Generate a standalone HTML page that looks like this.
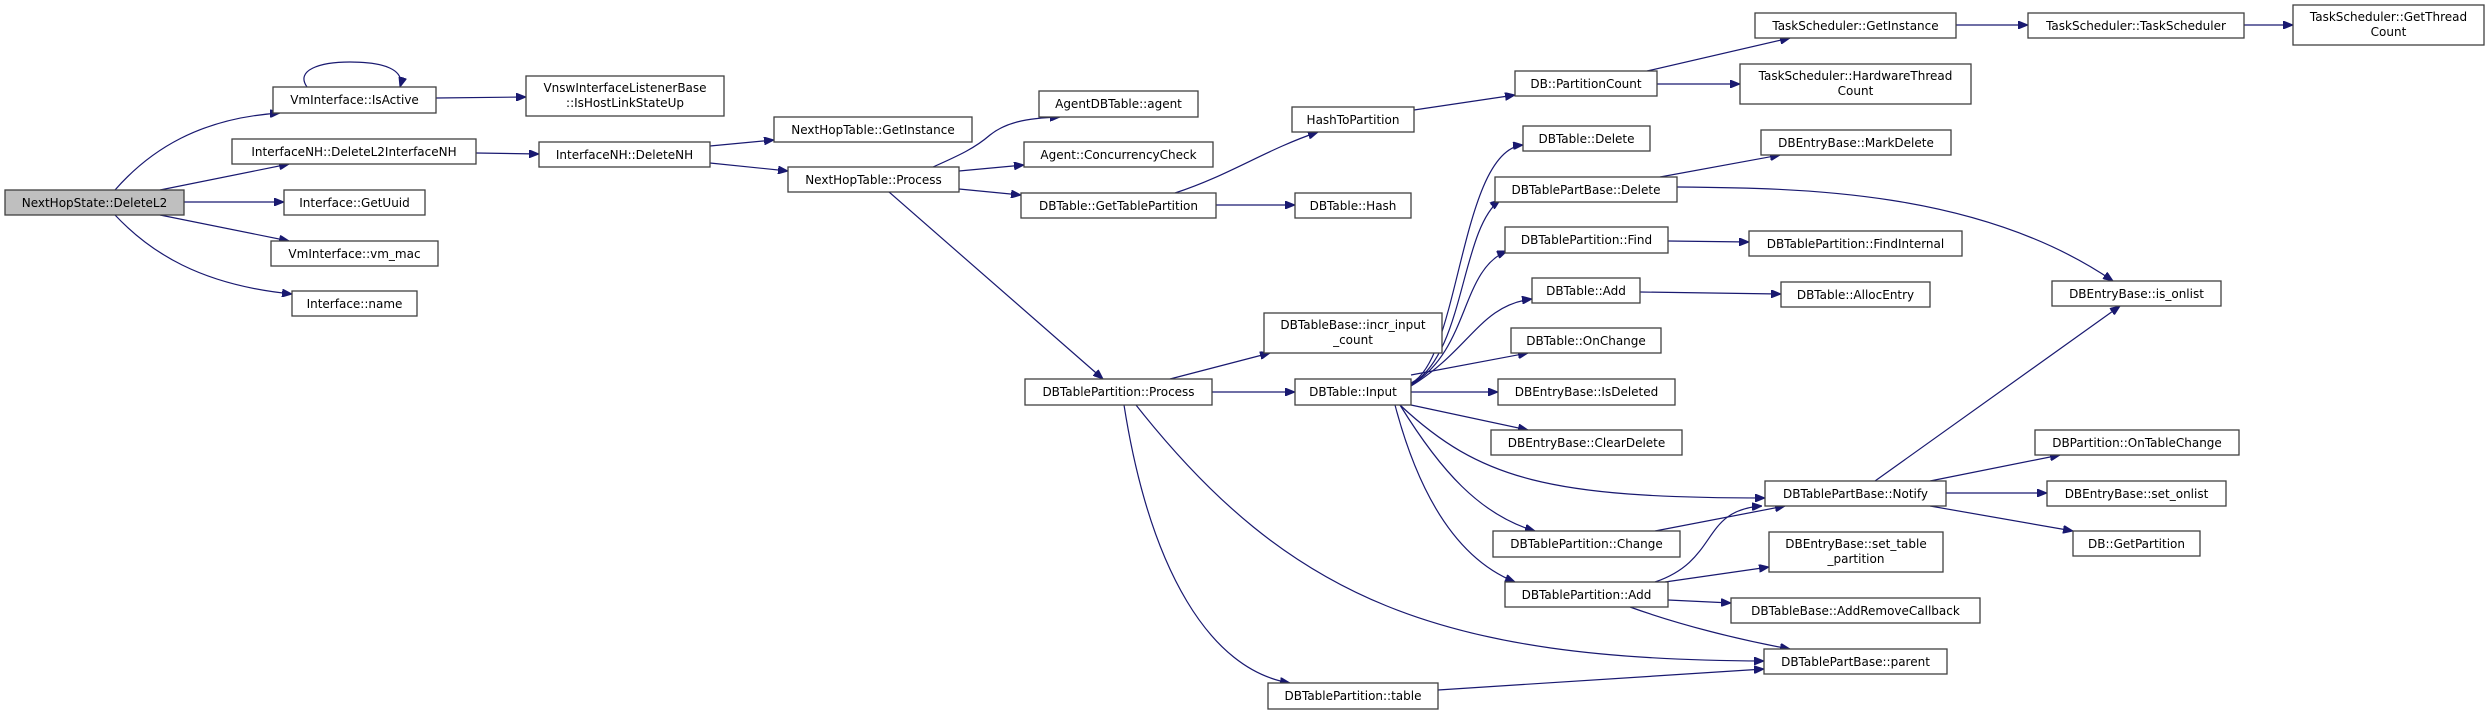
<!DOCTYPE html>
<html><head><meta charset="utf-8"><style>
html,body{margin:0;padding:0;background:#fff;}
svg{display:block;}
text{font-family:"DejaVu Sans","Liberation Sans",sans-serif;font-size:12px;fill:#000;}
.n{fill:#fff;stroke:#404040;stroke-width:1.3;}
.e{fill:none;stroke:#191970;stroke-width:1.2;}
</style></head><body>
<svg width="2491" height="715" viewBox="0 0 2491 715" xmlns="http://www.w3.org/2000/svg">
<defs><marker id="a" viewBox="0 0 10 8" refX="10" refY="4" markerWidth="10" markerHeight="8" markerUnits="userSpaceOnUse" orient="auto"><path d="M0,0 L10,4 L0,8 Z" fill="#191970" stroke="#191970"/></marker></defs>
<g class="e" marker-end="url(#a)">
<path d="M115,190 C150,150 200,118 280,113"/>
<path d="M160,190 L289,164"/>
<path d="M184,202 L284,202"/>
<path d="M160,215 L289,241"/>
<path d="M115,215 C150,252 200,285 292,294"/>
<path d="M307,87 C295,70 320,62 350,62 C385,62 405,70 400,87"/>
<path d="M436,98 L526,97"/>
<path d="M476,153 L539,154"/>
<path d="M710,146 L774,140"/>
<path d="M710,163 L788,171"/>
<path d="M933,167 C960,155 975,148 990,135 C1005,123 1025,118 1060,117"/>
<path d="M959,171 L1024,165"/>
<path d="M959,189 L1021,195"/>
<path d="M889,192 L1103,379"/>
<path d="M1175,193 C1230,175 1265,150 1318,132"/>
<path d="M1216,205 L1295,205"/>
<path d="M1414,110 L1515,95"/>
<path d="M1647,71 L1790,38"/>
<path d="M1657,84 L1740,84"/>
<path d="M1956,25 L2028,25"/>
<path d="M2244,25 L2293,25"/>
<path d="M1170,379 L1270,353"/>
<path d="M1212,392 L1295,392"/>
<path d="M1124,405 C1150,570 1210,670 1290,683"/>
<path d="M1136,405 C1290,600 1440,660 1764,661"/>
<path d="M1411,383 C1460,360 1460,150 1523,145"/>
<path d="M1411,384 C1465,355 1460,230 1500,200"/>
<path d="M1411,385 C1470,350 1460,270 1507,251"/>
<path d="M1411,386 C1470,350 1480,305 1532,299"/>
<path d="M1411,375 L1528,353"/>
<path d="M1411,392 L1498,392"/>
<path d="M1411,405 L1528,430"/>
<path d="M1400,405 C1480,480 1550,498 1765,498"/>
<path d="M1400,405 C1440,470 1480,515 1535,531"/>
<path d="M1395,405 C1420,500 1460,560 1515,582"/>
<path d="M1660,177 L1780,155"/>
<path d="M1677,187 C1800,188 1980,190 2113,281"/>
<path d="M1668,241 L1749,242"/>
<path d="M1640,292 L1781,294"/>
<path d="M1875,481 L2120,306"/>
<path d="M1930,481 L2060,455"/>
<path d="M1946,493 L2047,493"/>
<path d="M1930,506 L2073,531"/>
<path d="M1655,531 L1785,506"/>
<path d="M1655,582 C1720,560 1700,510 1762,506"/>
<path d="M1665,582 L1769,567"/>
<path d="M1668,600 L1731,603"/>
<path d="M1630,607 C1680,625 1740,640 1790,649"/>
<path d="M1438,690 L1764,669"/>
</g>
<rect x="5" y="190" width="179" height="25" fill="#bfbfbf" stroke="#404040" stroke-width="1.3"/>
<text x="94.5" y="207" text-anchor="middle">NextHopState::DeleteL2</text>
<g>
<rect class="n" x="273" y="87" width="163" height="26"/><text x="354.5" y="104" text-anchor="middle">VmInterface::IsActive</text>
<rect class="n" x="526" y="76" width="198" height="40"/><text x="625" y="92" text-anchor="middle">VnswInterfaceListenerBase</text><text x="625" y="107" text-anchor="middle">::IsHostLinkStateUp</text>
<rect class="n" x="232" y="139" width="244" height="25"/><text x="354" y="156" text-anchor="middle">InterfaceNH::DeleteL2InterfaceNH</text>
<rect class="n" x="539" y="142" width="171" height="25"/><text x="624.5" y="159" text-anchor="middle">InterfaceNH::DeleteNH</text>
<rect class="n" x="284" y="190" width="141" height="25"/><text x="354.5" y="207" text-anchor="middle">Interface::GetUuid</text>
<rect class="n" x="271" y="241" width="167" height="25"/><text x="354.5" y="258" text-anchor="middle">VmInterface::vm_mac</text>
<rect class="n" x="292" y="291" width="125" height="25"/><text x="354.5" y="308" text-anchor="middle">Interface::name</text>
<rect class="n" x="774" y="117" width="198" height="25"/><text x="873" y="134" text-anchor="middle">NextHopTable::GetInstance</text>
<rect class="n" x="788" y="167" width="171" height="25"/><text x="873.5" y="184" text-anchor="middle">NextHopTable::Process</text>
<rect class="n" x="1039" y="91" width="159" height="26"/><text x="1118.5" y="108" text-anchor="middle">AgentDBTable::agent</text>
<rect class="n" x="1024" y="142" width="189" height="25"/><text x="1118.5" y="159" text-anchor="middle">Agent::ConcurrencyCheck</text>
<rect class="n" x="1021" y="193" width="195" height="25"/><text x="1118.5" y="210" text-anchor="middle">DBTable::GetTablePartition</text>
<rect class="n" x="1292" y="107" width="122" height="25"/><text x="1353" y="124" text-anchor="middle">HashToPartition</text>
<rect class="n" x="1295" y="193" width="116" height="25"/><text x="1353" y="210" text-anchor="middle">DBTable::Hash</text>
<rect class="n" x="1515" y="71" width="142" height="25"/><text x="1586" y="88" text-anchor="middle">DB::PartitionCount</text>
<rect class="n" x="1523" y="126" width="127" height="25"/><text x="1586.5" y="143" text-anchor="middle">DBTable::Delete</text>
<rect class="n" x="1495" y="177" width="182" height="25"/><text x="1586" y="194" text-anchor="middle">DBTablePartBase::Delete</text>
<rect class="n" x="1505" y="227" width="163" height="26"/><text x="1586.5" y="244" text-anchor="middle">DBTablePartition::Find</text>
<rect class="n" x="1532" y="278" width="108" height="25"/><text x="1586" y="295" text-anchor="middle">DBTable::Add</text>
<rect class="n" x="1264" y="313" width="178" height="40"/><text x="1353" y="329" text-anchor="middle">DBTableBase::incr_input</text><text x="1353" y="344" text-anchor="middle">_count</text>
<rect class="n" x="1511" y="328" width="150" height="25"/><text x="1586" y="345" text-anchor="middle">DBTable::OnChange</text>
<rect class="n" x="1755" y="13" width="201" height="25"/><text x="1855.5" y="30" text-anchor="middle">TaskScheduler::GetInstance</text>
<rect class="n" x="2028" y="13" width="216" height="25"/><text x="2136" y="30" text-anchor="middle">TaskScheduler::TaskScheduler</text>
<rect class="n" x="2293" y="5" width="191" height="40"/><text x="2388.5" y="21" text-anchor="middle">TaskScheduler::GetThread</text><text x="2388.5" y="36" text-anchor="middle">Count</text>
<rect class="n" x="1740" y="64" width="231" height="40"/><text x="1855.5" y="80" text-anchor="middle">TaskScheduler::HardwareThread</text><text x="1855.5" y="95" text-anchor="middle">Count</text>
<rect class="n" x="1761" y="130" width="190" height="25"/><text x="1856" y="147" text-anchor="middle">DBEntryBase::MarkDelete</text>
<rect class="n" x="1749" y="231" width="213" height="25"/><text x="1855.5" y="248" text-anchor="middle">DBTablePartition::FindInternal</text>
<rect class="n" x="1781" y="282" width="149" height="25"/><text x="1855.5" y="299" text-anchor="middle">DBTable::AllocEntry</text>
<rect class="n" x="2052" y="281" width="169" height="25"/><text x="2136.5" y="298" text-anchor="middle">DBEntryBase::is_onlist</text>
<rect class="n" x="1025" y="379" width="187" height="26"/><text x="1118.5" y="396" text-anchor="middle">DBTablePartition::Process</text>
<rect class="n" x="1295" y="379" width="116" height="26"/><text x="1353" y="396" text-anchor="middle">DBTable::Input</text>
<rect class="n" x="1498" y="379" width="177" height="26"/><text x="1586.5" y="396" text-anchor="middle">DBEntryBase::IsDeleted</text>
<rect class="n" x="1491" y="430" width="191" height="25"/><text x="1586.5" y="447" text-anchor="middle">DBEntryBase::ClearDelete</text>
<rect class="n" x="1493" y="531" width="187" height="26"/><text x="1586.5" y="548" text-anchor="middle">DBTablePartition::Change</text>
<rect class="n" x="1505" y="582" width="163" height="25"/><text x="1586.5" y="599" text-anchor="middle">DBTablePartition::Add</text>
<rect class="n" x="1268" y="683" width="170" height="26"/><text x="1353" y="700" text-anchor="middle">DBTablePartition::table</text>
<rect class="n" x="1765" y="481" width="181" height="25"/><text x="1855.5" y="498" text-anchor="middle">DBTablePartBase::Notify</text>
<rect class="n" x="2035" y="430" width="204" height="25"/><text x="2137" y="447" text-anchor="middle">DBPartition::OnTableChange</text>
<rect class="n" x="2047" y="481" width="179" height="25"/><text x="2136.5" y="498" text-anchor="middle">DBEntryBase::set_onlist</text>
<rect class="n" x="2073" y="531" width="127" height="25"/><text x="2136.5" y="548" text-anchor="middle">DB::GetPartition</text>
<rect class="n" x="1769" y="532" width="174" height="40"/><text x="1856" y="548" text-anchor="middle">DBEntryBase::set_table</text><text x="1856" y="563" text-anchor="middle">_partition</text>
<rect class="n" x="1731" y="598" width="249" height="25"/><text x="1855.5" y="615" text-anchor="middle">DBTableBase::AddRemoveCallback</text>
<rect class="n" x="1764" y="649" width="183" height="25"/><text x="1855.5" y="666" text-anchor="middle">DBTablePartBase::parent</text>
</g>
</svg>
</body></html>
